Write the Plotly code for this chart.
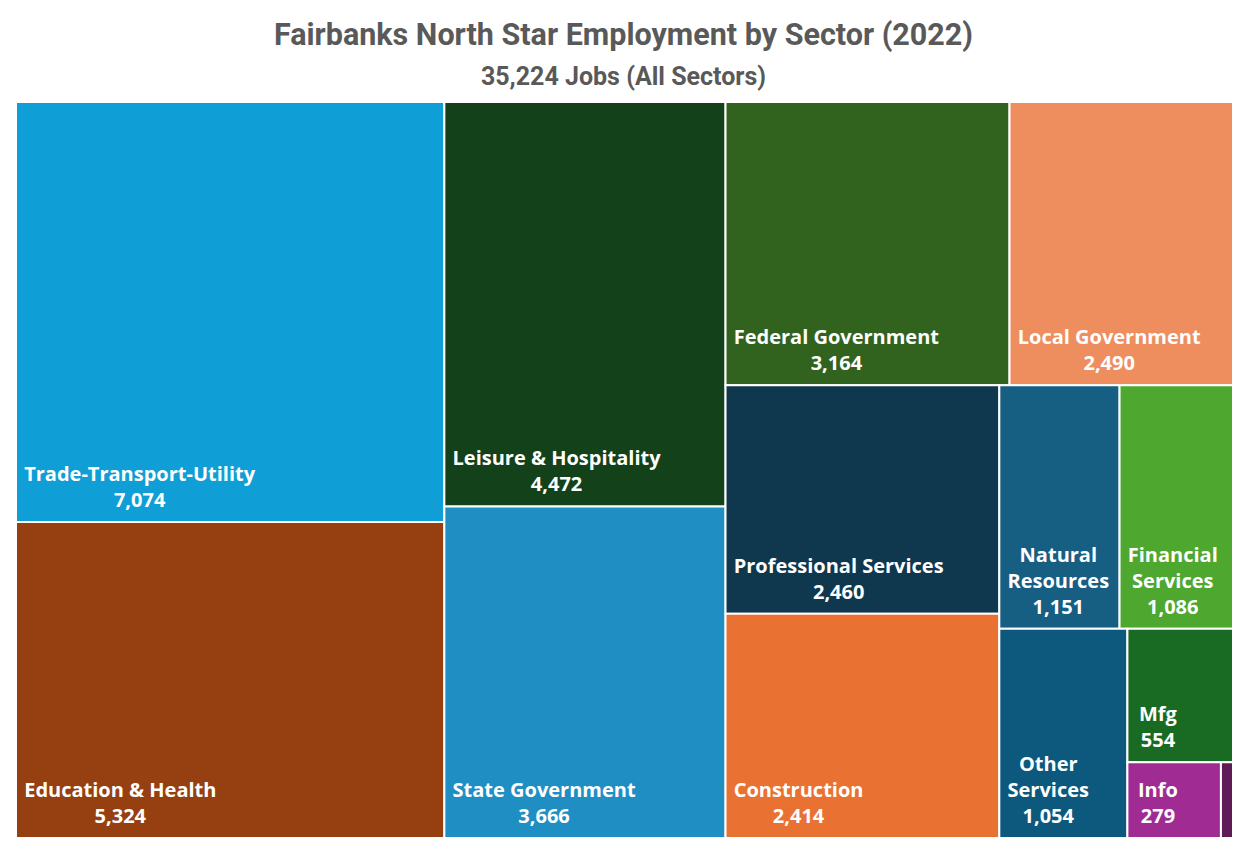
import plotly.graph_objects as go

# ---- data ----
sectors = ["Trade-Transport-Utility", "Education & Health", "Leisure & Hospitality",
           "State Government", "Federal Government", "Local Government",
           "Professional Services", "Construction", "Natural Resources",
           "Financial Services", "Other Services", "Mfg", "Info", "Unclassified"]
jobs = [7074, 5324, 4472, 3666, 3164, 2490, 2460, 2414, 1151, 1086, 1054, 554, 279, 36]
sector_parent = ["g1", "g1", "g2", "g2", "g3a", "g3a", "g3b1", "g3b1",
                 "g3b2a", "g3b2a", "g3b2b", "g3b2b1", "g3b2b1a", "g3b2b1a"]
sector_colors = ["#0F9ED5", "#963F11", "#12411A", "#1F8FC3", "#31631F", "#EE8E5E",
                 "#0F374D", "#E97132", "#175E83", "#4EA72E", "#0C597D", "#196B24",
                 "#A02B93", "#5F1A58"]
# sectors whose label wraps onto two lines in narrow tiles
wrapped = {"Natural Resources", "Financial Services", "Other Services"}
show_text = [True] * 13 + [False]

# layout groups (invisible containers that reproduce the tile arrangement)
group_ids = ["g1", "g2", "g3", "g3a", "g3b", "g3b1", "g3b2", "g3b2a", "g3b2b", "g3b2b1", "g3b2b1a"]
group_parent = ["", "", "", "g3", "g3", "g3b", "g3b", "g3b2", "g3b2", "g3b2b", "g3b2b1"]

NB = "\u00a0"
CENTER = "<span style='text-anchor:middle'>{}</span>"
PADBIG = "<span style='font-size:40px'>" + NB + "</span>"


def label_lines(name):
    parts = name.split(" ") if name in wrapped else [name]
    return "<br>".join(CENTER.format(NB + p + NB) for p in parts)


sector_text = [label_lines(s) for s in sectors]
value_line = CENTER.format(PADBIG + "%{value:,}" + PADBIG)

ids = [f"s{i}" for i in range(len(sectors))] + group_ids
labels = sectors + group_ids
parents = sector_parent + group_parent
values = jobs + [0] * len(group_ids)
colors = sector_colors + ["#FFFFFF"] * len(group_ids)
line_w = [2] * len(sectors) + [0] * len(group_ids)
texts = sector_text + [""] * len(group_ids)
templates = [("%{text}<br>" + value_line if s else " ") for s in show_text] + [" "] * len(group_ids)

fig = go.Figure(go.Treemap(
    ids=ids, labels=labels, parents=parents, values=values, text=texts,
    branchvalues="remainder", sort=False,
    tiling=dict(packing="slice-dice", pad=0),
    marker=dict(colors=colors, line=dict(color="white", width=line_w),
                pad=dict(t=0, l=0, r=0, b=0)),
    pathbar=dict(visible=False),
    texttemplate=templates,
    textposition="bottom left",
    textfont=dict(family="Open Sans, Lato, sans-serif", size=20, color="white", weight="bold"),
    hovertemplate="%{label}<br>%{value:,}<extra></extra>",
))

fig.update_layout(
    width=1247, height=850,
    margin=dict(l=16, r=14, t=102, b=12),
    paper_bgcolor="white",
    title=dict(
        text="Fairbanks North Star Employment by Sector (2022)<br>"
             "<span style='font-size:25px'>35,224 Jobs (All Sectors)</span>",
        x=0.5, xanchor="center", y=0.9465, yanchor="top",
        font=dict(family="Roboto, sans-serif", size=30.5, color="#595959", weight="bold"),
    ),
)

fig.write_html("out.html")
